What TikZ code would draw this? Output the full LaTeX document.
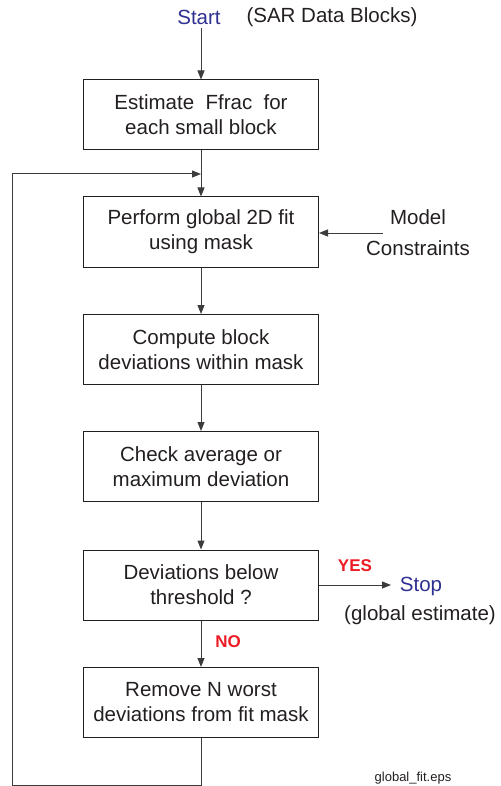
\documentclass[tikz,border=0pt]{standalone}
\usepackage{fontspec}
\setmainfont{Liberation Sans}
\usetikzlibrary{arrows.meta}

\definecolor{ink}{RGB}{35,31,32}
\definecolor{wire}{RGB}{60,60,60}
\definecolor{termblue}{RGB}{46,49,146}
\definecolor{flagred}{RGB}{237,28,36}

\begin{document}
\begin{tikzpicture}[x=1pt, y=-1pt, line width=1pt, text=ink,
  box/.style={draw=ink, minimum width=235pt, minimum height=70pt, align=center,
    font=\fontsize{20.5}{25}\selectfont},
  label/.style={font=\fontsize{20.5}{25}\selectfont, align=center},
  flag/.style={text=flagred, font=\fontsize{17}{20}\selectfont\bfseries},
  arr/.style={draw=wire, -{Triangle[length=9pt,width=7pt]}}]
  \useasboundingbox (0,0) rectangle (500,786);

  % Start / Stop
  \node[label, text=termblue] (start) at (199,17) {Start};
  \node[label] (sar) at (332,17) {(SAR Data Blocks)};

  % Schritte des Ablaufs
  \node[box] (est) at (201,115)   {Estimate~ Ffrac~ for\\each small block};
  \node[box] (fit) at (201,232)   {Perform global 2D fit\\using mask};
  \node[box] (dev) at (201,349.5) {Compute block\\deviations within mask};
  \node[box] (chk) at (201,466.5) {Check average or\\maximum deviation};
  \node[box] (thr) at (201,585)   {Deviations below\\threshold ?};
  \node[box] (rem) at (201,702.5) {Remove N worst\\deviations from fit mask};

  \node[label, font=\fontsize{20.5}{31}\selectfont] (model) at (418,233) {Model\\Constraints};
  \coordinate (mc) at (383,233);

  \node[label, text=termblue] (stop) at (421,586) {Stop};
  \node[label] (glob) at (420,615) {(global estimate)};
  \node[flag] (yes) at (355,566) {YES};
  \node[flag] (no)  at (228,642) {NO};

  % Rueckfuehrung
  \coordinate (join) at (201,174);
  \coordinate (loopbot) at (12,785);

  \draw[arr] (est.north |- start.south) -- (est);
  \draw[arr] (est) -- (fit);
  \draw[arr] (mc) -- (fit.east |- mc);
  \draw[arr] (fit) -- (dev);
  \draw[arr] (dev) -- (chk);
  \draw[arr] (chk) -- (thr);
  \draw[arr] (thr.east) -- ++(72,0);
  \draw[arr] (thr) -- (rem);
  \draw[arr] (rem.south) |- (loopbot) |- (join);

  \node[font=\fontsize{13}{15}\selectfont] (fname) at (413,778) {global\_fit.eps};
\end{tikzpicture}
\end{document}
